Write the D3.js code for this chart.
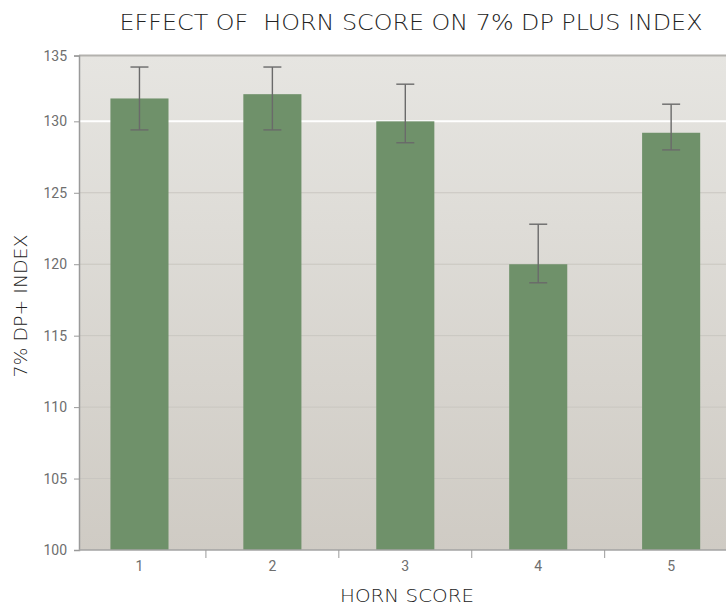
<!DOCTYPE html>
<html><head><meta charset="utf-8">
<script src="https://cdn.jsdelivr.net/npm/d3@7"></script>
<style>body{margin:0;background:#fff}svg{display:block}</style>
</head><body>
<svg id="c" width="726" height="607"></svg>
<script>
const categories = ["1","2","3","4","5"];
const values = [131.6, 131.9, 130.0, 120.0, 129.2];
const errHigh = [133.8, 133.8, 132.6, 122.8, 131.2];
const errLow = [129.4, 129.4, 128.5, 118.7, 128.0];
const yTicks = [100,105,110,115,120,125,130,135];
const title = "EFFECT OF  HORN SCORE ON 7% DP PLUS INDEX";
const xTitle = "HORN SCORE";
const yTitle = "7% DP+ INDEX";

const svg = d3.select("#c");
const L = 79, R = 726, T = 55.6, B = 550;
const x = d3.scaleBand().domain(categories).range([73, 737.6]).padding(0);
const y = d3.scaleLinear().domain([100, 134.6]).range([B, T]).clamp(true);
const barW = x.bandwidth() * 0.437;

const defs = svg.append("defs");
const g = defs.append("linearGradient").attr("id","bg").attr("x1",0).attr("y1",0).attr("x2",0).attr("y2",1);
g.append("stop").attr("offset","0%").attr("stop-color","#e6e5e1");
g.append("stop").attr("offset","100%").attr("stop-color","#cfcbc4");
svg.append("rect").attr("x",L).attr("y",T).attr("width",R-L).attr("height",B-T).attr("fill","url(#bg)");

// grid
svg.append("g").selectAll("line").data(yTicks.filter(d=>d>100 && d<135)).join("line")
  .attr("x1",L).attr("x2",R).attr("y1",d=>y(d)).attr("y2",d=>y(d))
  .attr("stroke",d=>d===130?"#ffffff":"#c9c6c0")
  .attr("stroke-width",d=>d===130?2:1);

// top border
svg.append("line").attr("x1",L).attr("x2",R).attr("y1",T).attr("y2",T).attr("stroke","#b3b2ae").attr("stroke-width",2);

// bars
svg.append("g").selectAll("rect").data(categories).join("rect")
  .attr("x",(d)=>x(d)+x.bandwidth()/2-barW/2)
  .attr("width",barW)
  .attr("y",(d,i)=>y(values[i]))
  .attr("height",(d,i)=>B-y(values[i]))
  .attr("fill","#6f916a");

// error bars
const eb = svg.append("g").attr("stroke","#6a6a6a").attr("stroke-width",1.4);
categories.forEach((c,i)=>{
  const cx = x(c)+x.bandwidth()/2;
  eb.append("line").attr("x1",cx).attr("x2",cx).attr("y1",y(errHigh[i])).attr("y2",y(errLow[i]));
  eb.append("line").attr("x1",cx-9).attr("x2",cx+9).attr("y1",y(errHigh[i])).attr("y2",y(errHigh[i]));
  eb.append("line").attr("x1",cx-9).attr("x2",cx+9).attr("y1",y(errLow[i])).attr("y2",y(errLow[i]));
});

// y axis
const ya = svg.append("g").attr("transform",`translate(${L},0)`)
  .call(d3.axisLeft(y).tickValues(yTicks).tickSize(5).tickPadding(7).tickFormat(d3.format("d")));
ya.select(".domain").attr("stroke","#9a9a9a").attr("stroke-width",1.5);
ya.selectAll(".tick line").attr("stroke","#9a9a9a");
ya.selectAll("text").attr("fill","#6e6e6e").style("font-family","Roboto").style("font-size","14px");

// x axis
const xa = svg.append("g").attr("transform",`translate(0,${B})`)
  .call(d3.axisBottom(x).tickSize(0).tickPadding(11));
xa.select(".domain").remove();
svg.append("line").attr("x1",L).attr("x2",R).attr("y1",B).attr("y2",B).attr("stroke","#a3a3a3").attr("stroke-width",1.5);
svg.append("g").selectAll("line").data(categories.slice(1)).join("line")
  .attr("x1",d=>x(d)).attr("x2",d=>x(d)).attr("y1",B).attr("y2",B+8)
  .attr("stroke","#9a9a9a");
xa.selectAll("text").attr("fill","#6e6e6e").style("font-family","Roboto").style("font-size","14px");

// titles
const tf = "'DejaVu Sans', sans-serif";
svg.append("text").attr("x",411).attr("y",30).attr("text-anchor","middle")
  .style("font-family",tf).style("font-weight","200").style("font-size","21px").attr("fill","#222")
  .attr("textLength",583).attr("lengthAdjust","spacingAndGlyphs")
  .style("white-space","pre").attr("xml:space","preserve").text(title);
svg.append("text").attr("x",407).attr("y",602).attr("text-anchor","middle")
  .style("font-family",tf).style("font-weight","200").style("font-size","17px").attr("fill","#222")
  .attr("textLength",134).attr("lengthAdjust","spacingAndGlyphs").text(xTitle);
svg.append("text").attr("transform","translate(27,306) rotate(-90)").attr("text-anchor","middle")
  .style("font-family",tf).style("font-weight","200").style("font-size","17px").attr("fill","#222")
  .attr("textLength",143).attr("lengthAdjust","spacingAndGlyphs").text(yTitle);
</script>
</body></html>
